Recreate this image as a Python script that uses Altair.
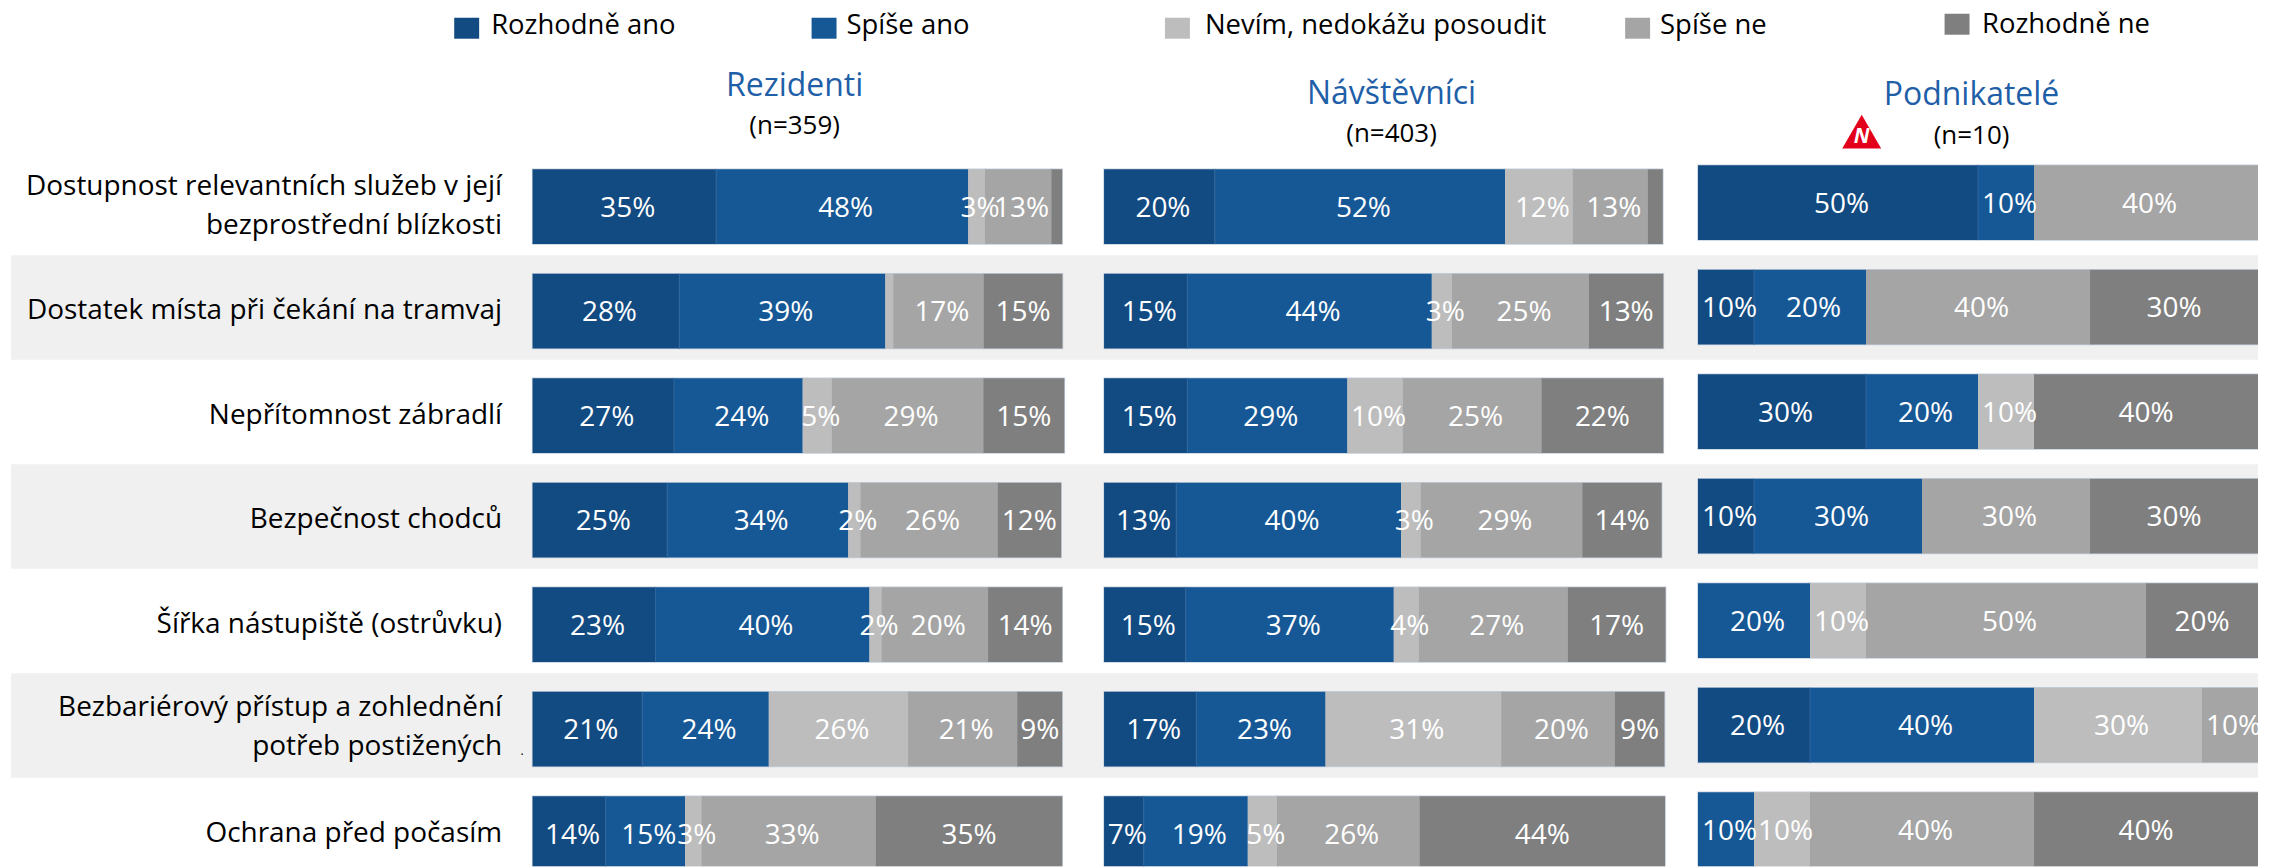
import altair as alt
import pandas as pd

FONT = "Open Sans"
series = ["Rozhodně ano", "Spíše ano", "Nevím, nedokážu posoudit", "Spíše ne", "Rozhodně ne"]
colors = ["#124a82", "#165896", "#bdbdbd", "#a5a5a5", "#7f7f7f"]
row_lines = [
    ["Dostupnost relevantních služeb v její", "bezprostřední blízkosti"],
    ["Dostatek místa při čekání na tramvaj"],
    ["Nepřítomnost zábradlí"],
    ["Bezpečnost chodců"],
    ["Šířka nástupiště (ostrůvku)"],
    ["Bezbariérový přístup a zohlednění", "potřeb postižených"],
    ["Ochrana před počasím"],
]
row_line_shift = [0, 0, 0, 0, 0, -2, 0]
rez_values = [
    [34.65, 47.6, 3.14, 12.55, 2.05],
    [27.7, 38.9, 1.5, 17.05, 14.9],
    [26.7, 24.3, 5.5, 28.6, 15.3],
    [25.4, 34.2, 2.3, 25.9, 12.0],
    [23.2, 40.4, 2.3, 20.1, 14.0],
    [20.7, 23.9, 26.3, 20.6, 8.5],
    [13.8, 15.0, 3.1, 32.9, 35.2],
]
rez_labels = [
    ["35%", "48%", "3%", "13%", ""],
    ["28%", "39%", "", "17%", "15%"],
    ["27%", "24%", "5%", "29%", "15%"],
    ["25%", "34%", "2%", "26%", "12%"],
    ["23%", "40%", "2%", "20%", "14%"],
    ["21%", "24%", "26%", "21%", "9%"],
    ["14%", "15%", "3%", "33%", "35%"],
]
nav_values = [
    [19.8, 51.9, 12.1, 13.4, 2.7],
    [14.9, 43.7, 3.6, 24.5, 13.3],
    [14.9, 28.6, 9.9, 24.8, 21.8],
    [12.9, 40.2, 3.5, 28.9, 14.2],
    [14.6, 37.2, 4.5, 26.6, 17.5],
    [16.5, 23.1, 31.4, 20.3, 8.9],
    [7.1, 18.6, 5.2, 25.5, 43.9],
]
nav_labels = [
    ["20%", "52%", "12%", "13%", ""],
    ["15%", "44%", "3%", "25%", "13%"],
    ["15%", "29%", "10%", "25%", "22%"],
    ["13%", "40%", "3%", "29%", "14%"],
    ["15%", "37%", "4%", "27%", "17%"],
    ["17%", "23%", "31%", "20%", "9%"],
    ["7%", "19%", "5%", "26%", "44%"],
]
pod_values = [
    [50, 10, 0, 40, 0],
    [10, 20, 0, 40, 30],
    [30, 20, 10, 0, 40],
    [10, 30, 0, 30, 30],
    [0, 20, 10, 50, 20],
    [20, 40, 30, 10, 0],
    [0, 10, 10, 40, 40],
]
pod_labels = [[f"{v}%" if v else "" for v in row] for row in pod_values]

legend_swatch_x = [455, 813, 1167, 1628, 1948]
legend_swatch_y = [17, 17, 17, 17, 13]
legend_text_x = [492, 848, 1207, 1663, 1985.5]
legend_text_y = [25, 25, 25, 25, 24]

PITCH = 104.7
FIRST = 168.7
BAR_H = 75
W = 2254
H = 859
color_scale = alt.Scale(domain=series, range=colors)
xs = alt.Scale(domain=[8, 8 + W], nice=False, zero=False)
ys = alt.Scale(domain=[8 + H, 8], nice=False, zero=False)
X = lambda f: alt.X(f, type="quantitative", scale=xs, axis=None)
Y = lambda f: alt.Y(f, type="quantitative", scale=ys, axis=None)


def long_table(values, labels):
    return pd.DataFrame([
        {"row": r, "order": s, "series": series[s], "value": v, "label": l}
        for r, (vals, labs) in enumerate(zip(values, labels))
        for s, (v, l) in enumerate(zip(vals, labs))
    ])


def note(text, x, y, size, color="black", **kw):
    return alt.Chart(pd.DataFrame({"t": [text], "x": [x], "y": [y]})).mark_text(
        font=FONT, fontSize=size, color=color, **kw
    ).encode(x=X("x"), y=Y("y"), text="t:N")


def panel(values, labels, left, width, shift):
    base = alt.Chart(long_table(values, labels)).transform_stack(
        stack="value", groupby=["row"], sort=[alt.SortField("order")], as_=["s0", "s1"]
    ).transform_calculate(
        x0=f"{left} + datum.s0 * {width} / 100",
        x1=f"{left} + datum.s1 * {width} / 100",
        mid=f"{left} + (datum.s0 + datum.s1) * {width} / 200",
        ytop=f"{FIRST + shift} + datum.row * {PITCH}",
        ybot=f"{FIRST + shift + BAR_H} + datum.row * {PITCH}",
        ymid=f"{FIRST + shift + BAR_H / 2} + datum.row * {PITCH}",
    ).transform_filter("datum.value > 0")
    edge = base.mark_rect(clip=True, stroke="#c5d0dc", strokeWidth=1.5, fill="#c5d0dc").encode(
        x=X("x0"), x2="x1:Q", y=Y("ytop"), y2="ybot:Q"
    )
    bars = base.mark_rect(clip=True).encode(
        x=X("x0"), x2="x1:Q", y=Y("ytop"), y2="ybot:Q",
        color=alt.Color("series:N", scale=color_scale, legend=None),
    )
    seps = base.transform_filter("datum.order == 0").mark_rule(color="#2f659c", strokeWidth=1, clip=True).encode(
        x=X("x1"), y=Y("ytop"), y2="ybot:Q"
    )
    t1 = base.transform_filter("datum.order < 4 && datum.label != ''").mark_text(
        font=FONT, fontSize=28, color="white", dx=3.5, dy=2
    ).encode(x=X("mid"), y=Y("ymid"), text="label:N")
    t2 = base.transform_filter("datum.order == 4 && datum.label != ''").mark_text(
        font=FONT, fontSize=28, color="white", dy=2
    ).encode(x=X("mid"), y=Y("ymid"), text="label:N")
    return [edge, bars, seps, t1, t2]


bands = alt.Chart(pd.DataFrame({"row": [1, 3, 5]})).transform_calculate(
    t=f"{FIRST - 18.5} + datum.row * {PITCH}",
    b=f"{FIRST - 18.5 + PITCH} + datum.row * {PITCH}",
    x0="11", x1=str(8 + W),
).mark_rect(color="#f0f0f0", clip=True).encode(x=X("x0"), x2="x1:Q", y=Y("t"), y2="b:Q")

lab_recs = []
for r, lines in enumerate(row_lines):
    for i, line in enumerate(lines):
        lab_recs.append({"t": line, "row": r, "off": (i - (len(lines) - 1) / 2) * 39 + row_line_shift[r]})
row_text = alt.Chart(pd.DataFrame(lab_recs)).transform_calculate(
    y=f"{FIRST + BAR_H / 2} + datum.row * {PITCH} + datum.off", x="503"
).mark_text(font=FONT, fontSize=28, color="black", align="right").encode(x=X("x"), y=Y("y"), text="t:N")

leg_df = pd.DataFrame({
    "series": series,
    "x0": legend_swatch_x,
    "x1": [v + 25 for v in legend_swatch_x],
    "y0": legend_swatch_y,
    "y1": [v + 21 for v in legend_swatch_y],
    "tx": legend_text_x,
    "ty": legend_text_y,
})
leg_rect = alt.Chart(leg_df).mark_rect().encode(
    x=X("x0"), x2="x1:Q", y=Y("y0"), y2="y1:Q",
    color=alt.Color("series:N", scale=color_scale, legend=None),
)
leg_text = alt.Chart(leg_df).mark_text(font=FONT, fontSize=27.5, color="black", align="left").encode(
    x=X("tx"), y=Y("ty"), text="series:N"
)
tri = alt.Chart(pd.DataFrame({"x": [1865], "y": [131]})).mark_point(
    shape="triangle-up", size=1521, filled=True, color="#e3001b", opacity=1
).encode(x=X("x"), y=Y("y"))

layers = [bands, row_text]
layers += panel(rez_values, rez_labels, 533.5, 530.6, 0)
layers += panel(nav_values, nav_labels, 1106, 560.3, 0)
layers += panel(pod_values, pod_labels, 1701, 561, -4)
layers += [
    leg_rect, leg_text,
    note("Rezidenti", 796, 85, 32, "#1f5fa8"), note("(n=359)", 796, 125, 26),
    note("Návštěvníci", 1394, 93, 32, "#1f5fa8"), note("(n=403)", 1394, 133, 26),
    note("Podnikatelé", 1975, 94, 32, "#1f5fa8"), note("(n=10)", 1975, 135, 26),
    tri, note("N", 1865, 136, 21, "white", fontWeight="bold", fontStyle="italic"),
    note(".", 523, 752, 12),
]
chart = alt.layer(*layers).properties(width=W, height=H, padding=0, background="white").configure_view(stroke=None)
chart.save("out.html", embed_options={"renderer": "svg", "actions": False})
